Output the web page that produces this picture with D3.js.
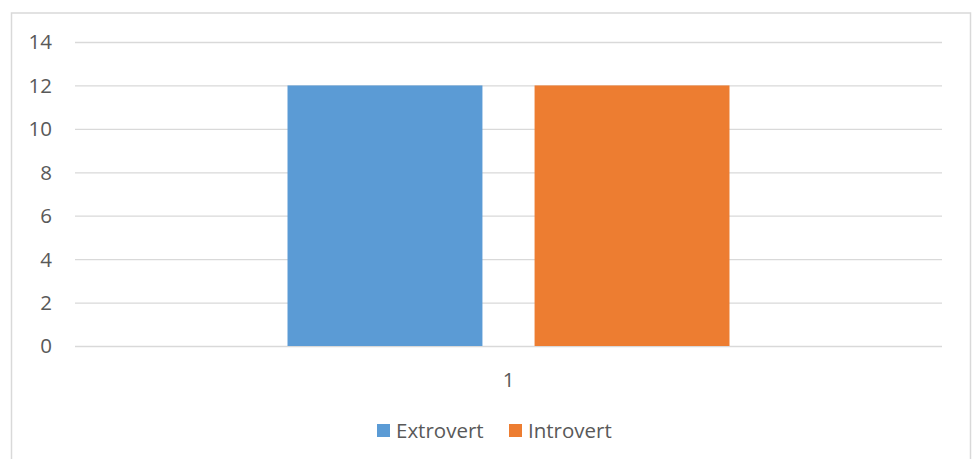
<!DOCTYPE html>
<html><head><meta charset="utf-8">
<script src="https://cdn.jsdelivr.net/npm/d3@7"></script>
<style>body{margin:0;background:#fff}svg{display:block}text{font-family:"Open Sans",sans-serif;fill:#595959}</style>
</head><body><svg id="c" width="976" height="459"></svg>
<script>
const categories = ["1"];
const seriesNames = ["Extrovert", "Introvert"];
const extrovert = [12];
const introvert = [12];
const yTicks = [0, 2, 4, 6, 8, 10, 12, 14];
const colors = ["#5b9bd5", "#ed7d31"];

(function () {
const FONT = "'Open Sans', sans-serif";
const FS = 20.5;
const svg = d3.select("#c");
svg.append("rect").attr("x", 11.5).attr("y", 13).attr("width", 959).attr("height", 460)
  .attr("fill", "#fff").attr("stroke", "#d9d9d9").attr("stroke-width", 1.5);

const mLeft = 75, mRight = 942, mTop = 42, mBottom = 346;
const y = d3.scaleLinear().domain([0, 14]).range([mBottom, mTop]);
const x = d3.scaleBand().domain(categories).range([mLeft, mRight]).paddingInner(0).paddingOuter(0.4808);
const xs = d3.scaleBand().domain(seriesNames).range([0, x.bandwidth()]).paddingInner(0.211).paddingOuter(0);

const yAxis = d3.axisLeft(y).tickValues(yTicks).tickSize(-(mRight - mLeft)).tickPadding(23);
const ga = svg.append("g").attr("transform", `translate(${mLeft},0)`).call(yAxis);
ga.select(".domain").remove();
ga.selectAll(".tick line").attr("stroke", "#d9d9d9").attr("stroke-width", 1.3);
ga.selectAll(".tick text").attr("font-size", FS).attr("fill", "#595959").attr("dy", "0.34em")
  .style("font-family", FONT);

const data = categories.map((c, i) => ({ c, vals: [extrovert[i], introvert[i]] }));
const g = svg.append("g");
data.forEach(d => {
  d.vals.forEach((v, j) => {
    g.append("rect")
      .attr("x", x(d.c) + xs(seriesNames[j]))
      .attr("y", y(v))
      .attr("width", xs.bandwidth())
      .attr("height", y(0) - y(v))
      .attr("fill", colors[j]);
  });
  svg.append("text").attr("x", x(d.c) + x.bandwidth() / 2).attr("y", 387)
    .attr("text-anchor", "middle").attr("font-size", FS).text(d.c);
});

const legX = [377, 509];
seriesNames.forEach((s, j) => {
  svg.append("rect").attr("x", legX[j]).attr("y", 424).attr("width", 13).attr("height", 13).attr("fill", colors[j]);
  svg.append("text").attr("x", legX[j] + 19).attr("y", 438).attr("font-size", FS).text(s);
});
})();
</script></body></html>
